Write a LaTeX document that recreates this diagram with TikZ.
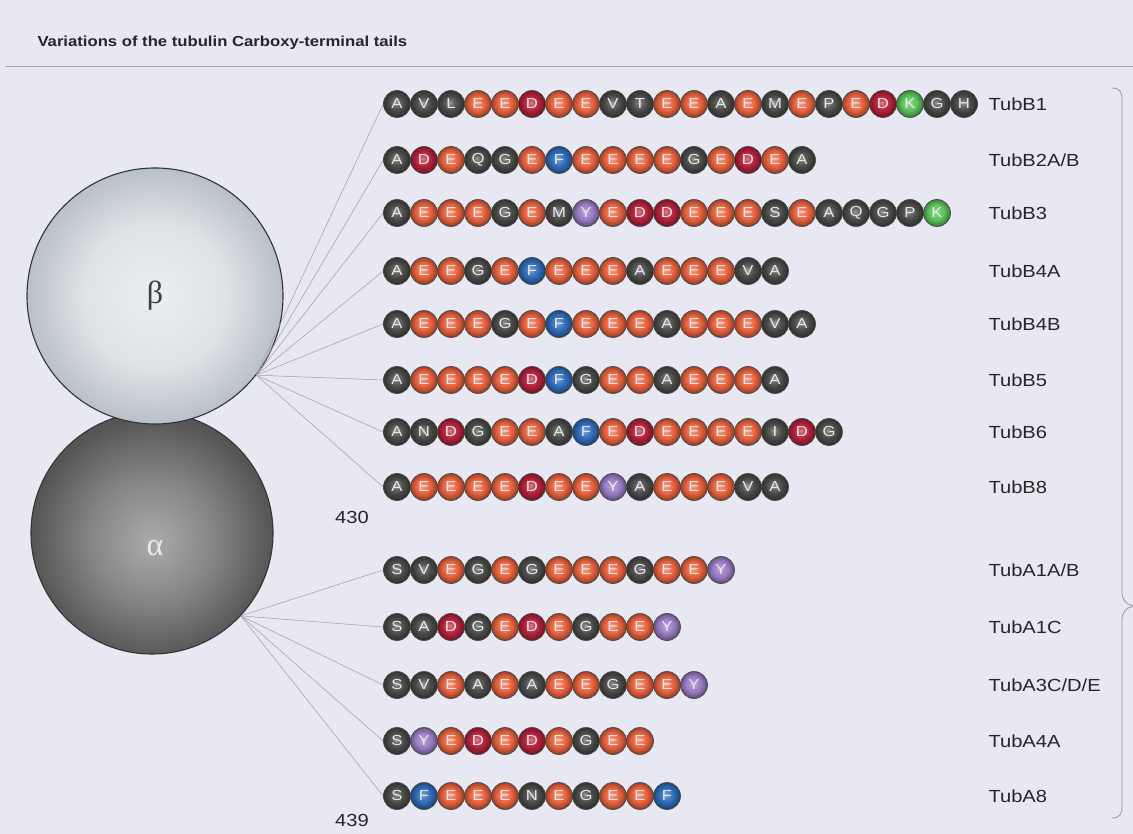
\documentclass[tikz,border=0pt]{standalone}
\usepackage{fontspec}
\setmainfont{Liberation Sans}
\newfontfamily\labfont[FakeStretch=1.15]{Liberation Sans}
\newfontfamily\greekserif{Liberation Serif}
\definecolor{bgcol}{HTML}{E8E8F2}
\definecolor{gbead}{HTML}{4A4A48}
\definecolor{ebead}{HTML}{E8623E}
\definecolor{dbead}{HTML}{B3213B}
\definecolor{fbead}{HTML}{2F6BB8}
\definecolor{ybead}{HTML}{9A7CC4}
\definecolor{kbead}{HTML}{5DC35A}
\colorlet{resE}{ebead}
\colorlet{resD}{dbead}
\colorlet{resF}{fbead}
\colorlet{resY}{ybead}
\colorlet{resK}{kbead}
\colorlet{resA}{gbead}\colorlet{resV}{gbead}\colorlet{resL}{gbead}
\colorlet{resT}{gbead}\colorlet{resM}{gbead}\colorlet{resP}{gbead}
\colorlet{resG}{gbead}\colorlet{resH}{gbead}\colorlet{resQ}{gbead}
\colorlet{resS}{gbead}\colorlet{resN}{gbead}\colorlet{resI}{gbead}
\colorlet{beadc}{gbead}
\pgfdeclareradialshading[beadc]{beadshade}{\pgfpoint{-2bp}{2.5bp}}{%
  color(0bp)=(beadc!55!white); color(7bp)=(beadc!85!white); color(14bp)=(beadc);
  color(21bp)=(beadc!78!black); color(26bp)=(beadc!55!black); color(50bp)=(beadc!55!black)}
\definecolor{betain}{HTML}{EBEEF1}
\definecolor{betaout}{HTML}{B9C0C8}
\definecolor{alphain}{HTML}{ABABAB}
\definecolor{alphaout}{HTML}{555555}
\pgfdeclareradialshading{betashade}{\pgfpoint{0bp}{0bp}}{%
  color(0bp)=(betain); color(14bp)=(betain!75!betaout); color(25bp)=(betaout); color(50bp)=(betaout)}
\pgfdeclareradialshading{alphashade}{\pgfpoint{0bp}{-2bp}}{%
  color(0bp)=(alphain); color(13bp)=(alphain!55!alphaout); color(25bp)=(alphaout); color(50bp)=(alphaout)}
\begin{document}
\begin{tikzpicture}[x=1pt,y=-1pt,
  bead/.style={circle, minimum size=27pt, inner sep=0pt, draw=black!70, line width=0.7pt,
    text=white!82!gray, font=\labfont\fontsize{14.5}{14.5}\selectfont},
  conn/.style={draw=gray!75, line width=0.5pt},
  lab/.style={anchor=west, font=\labfont\fontsize{17.5}{17.5}\selectfont, text=black!85},
  num/.style={font=\labfont\fontsize{17.5}{17.5}\selectfont, text=black!85}]
\useasboundingbox (0,0) rectangle (1133,834);
\fill[bgcol] (0,0) rectangle (1133,834);
\node[anchor=base west, font=\labfont\bfseries\fontsize{14.5}{15}\selectfont, text=black!85] (title) at (34,47) {Variations of the tubulin Carboxy-terminal tails};
\draw[gray!70, line width=0.8pt] (5,66) -- (1133,66);
% big circles
\node[circle, minimum size=242pt, inner sep=0pt, draw=black!80, line width=1.1pt, shading=alphashade] (alpha) at (152,533) {};
\node[circle, minimum size=256pt, inner sep=0pt, draw=black!80, line width=1.1pt, shading=betashade] (beta) at (155,296) {};
\node[font=\greekserif\fontsize{32}{32}\selectfont, text=black!75] (betalab) at (155,296) {β};
\node[font=\greekserif\fontsize{32}{32}\selectfont, text=white!85!gray] (alphalab) at (155,548) {α};
\coordinate (bhub) at (beta.-38);
\coordinate (ahub) at (alpha.-43);
% bead rows
\foreach \r/\y/\seq in {
 1/104/{A,V,L,E,E,D,E,E,V,T,E,E,A,E,M,E,P,E,D,K,G,H},
 2/160/{A,D,E,Q,G,E,F,E,E,E,E,G,E,D,E,A},
 3/213/{A,E,E,E,G,E,M,Y,E,D,D,E,E,E,S,E,A,Q,G,P,K},
 4/271/{A,E,E,G,E,F,E,E,E,A,E,E,E,V,A},
 5/324/{A,E,E,E,G,E,F,E,E,E,A,E,E,E,V,A},
 6/380/{A,E,E,E,E,D,F,G,E,E,A,E,E,E,A},
 7/432/{A,N,D,G,E,E,A,F,E,D,E,E,E,E,I,D,G},
 8/487/{A,E,E,E,E,D,E,E,Y,A,E,E,E,V,A},
 9/570/{S,V,E,G,E,G,E,E,E,G,E,E,Y},
 10/627/{S,A,D,G,E,D,E,G,E,E,Y},
 11/685/{S,V,E,A,E,A,E,E,G,E,E,Y},
 12/741/{S,Y,E,D,E,D,E,G,E,E},
 13/796/{S,F,E,E,E,N,E,G,E,E,F}}{
  \foreach \l [count=\i from 0] in \seq {
    \colorlet{beadc}{res\l}
    \node[bead, shading=beadshade] (b\r-\i) at ({397+27*\i},\y) {\l};
  }
}
\foreach \r in {1,...,8} { \draw[conn] (bhub) -- (b\r-0.west); }
\foreach \r in {9,...,13} { \draw[conn] (ahub) -- (b\r-0.west); }
% labels
\node[lab] (l1) at (985,104) {TubB1};
\node[lab] (l2) at (985,160) {TubB2A/B};
\node[lab] (l3) at (985,213) {TubB3};
\node[lab] (l4) at (985,271) {TubB4A};
\node[lab] (l5) at (985,324) {TubB4B};
\node[lab] (l6) at (985,380) {TubB5};
\node[lab] (l7) at (985,432) {TubB6};
\node[lab] (l8) at (985,487) {TubB8};
\node[lab] (l9) at (985,570) {TubA1A/B};
\node[lab] (l10) at (985,627) {TubA1C};
\node[lab] (l11) at (985,685) {TubA3C/D/E};
\node[lab] (l12) at (985,741) {TubA4A};
\node[lab] (l13) at (985,796) {TubA8};
\node[num] (n430) at (352,517) {430};
\node[num] (n439) at (352,820) {439};
% brace
\draw[gray!80, line width=0.8pt] (1112,88) .. controls (1120,88) and (1122,92) .. (1122,100)
  -- (1122,592) .. controls (1122,600) and (1126,604) .. (1133,606)
  .. controls (1126,608) and (1122,612) .. (1122,620)
  -- (1122,806) .. controls (1122,814) and (1120,818) .. (1112,818);
\end{tikzpicture}
\end{document}
